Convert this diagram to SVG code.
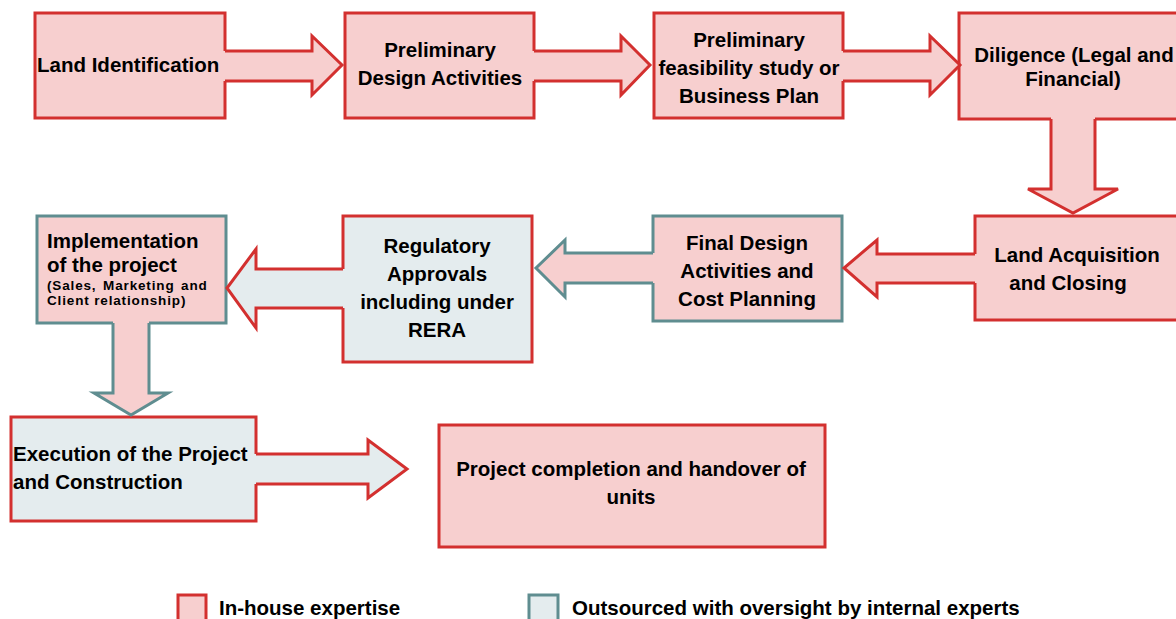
<svg xmlns="http://www.w3.org/2000/svg" width="1176" height="619" viewBox="0 0 1176 619">
<style>
.in{fill:#F7CFCF}
.out{fill:#E4ECEE}
.rs{stroke:#D3302F;stroke-width:3;stroke-linejoin:miter}
.ts{stroke:#5F8D90;stroke-width:3;stroke-linejoin:miter}
.nf{stroke:none}
.ol{fill:none}
text{font-family:"Liberation Sans",Arial,sans-serif;font-weight:bold;font-size:20.5px;fill:#000}
.c{text-anchor:middle}
.sm{font-size:13.5px;letter-spacing:0.85px}
</style>
<rect width="1176" height="619" fill="#fff"/>
<g id="land-identification">
<rect class="in rs" x="35" y="13" width="190" height="105"/>
<text x="37" y="72">Land Identification</text>
</g>
<g id="preliminary-design">
<rect class="in rs" x="345" y="13" width="189" height="105"/>
<text class="c" x="440" y="57">Preliminary</text>
<text class="c" x="440" y="85">Design Activities</text>
</g>
<g id="feasibility">
<rect class="in rs" x="654" y="13" width="189" height="105"/>
<text class="c" x="749" y="47">Preliminary</text>
<text class="c" x="749" y="75">feasibility study or</text>
<text class="c" x="749" y="103">Business Plan</text>
</g>
<g id="diligence">
<rect class="in rs" x="959" y="13" width="240" height="106"/>
<text class="c" x="1074" y="62">Diligence (Legal and</text>
<text class="c" x="1073" y="86">Financial)</text>
</g>
<g id="land-acquisition">
<rect class="in rs" x="975" y="216" width="230" height="104"/>
<text class="c" x="1077" y="262">Land Acquisition</text>
<text class="c" x="1068" y="290">and Closing</text>
</g>
<g id="final-design">
<rect class="in ts" x="653" y="216" width="189" height="105"/>
<text class="c" x="747" y="250">Final Design</text>
<text class="c" x="747" y="278">Activities and</text>
<text class="c" x="747" y="306">Cost Planning</text>
</g>
<g id="regulatory">
<rect class="out rs" x="343" y="216" width="189" height="146"/>
<text class="c" x="437" y="253">Regulatory</text>
<text class="c" x="437" y="281">Approvals</text>
<text class="c" x="437" y="309">including under</text>
<text class="c" x="437" y="337">RERA</text>
</g>
<g id="implementation">
<rect class="in ts" x="37" y="216" width="189" height="107"/>
<text x="47" y="248">Implementation</text>
<text x="47" y="272">of the project</text>
<text class="sm" x="47" y="290" word-spacing="2">(Sales, Marketing and</text>
<text class="sm" x="47" y="305">Client relationship)</text>
</g>
<g id="execution">
<rect class="out rs" x="11" y="417" width="245" height="104"/>
<text x="13" y="461">Execution of the Project</text>
<text x="13" y="489">and Construction</text>
</g>
<g id="completion">
<rect class="in rs" x="439" y="425" width="386" height="122"/>
<text class="c" x="631" y="476">Project completion and handover of</text>
<text class="c" x="631" y="504">units</text>
</g>
<g id="connectors">
<polygon class="in nf" points="223,51 312,51 312,36 342,65 312,95 312,81 223,81"/>
<path class="ol rs" d="M225,51 H312 V36 L342,65 L312,95 V81 H225"/>
<polygon class="in nf" points="532,51 621,51 621,36 650,65 621,95 621,81 532,81"/>
<path class="ol rs" d="M534,51 H621 V36 L650,65 L621,95 V81 H534"/>
<polygon class="in nf" points="841,51 930,51 930,36 960,65 930,95 930,81 841,81"/>
<path class="ol rs" d="M843,51 H930 V36 L960,65 L930,95 V81 H843"/>
<polygon class="in nf" points="1051,117 1051,189 1028,189 1073,213 1118,189 1095,189 1095,117"/>
<path class="ol rs" d="M1051,119 V189 H1028 L1073,213 L1118,189 H1095 V119"/>
<polygon class="in nf" points="977,254 877,254 877,240 844,268 877,297 877,283 977,283"/>
<path class="ol rs" d="M975,254 H877 V240 L844,268 L877,297 V283 H975"/>
<polygon class="in nf" points="655,253 565,253 565,240 536,268 565,297 565,283 655,283"/>
<path class="ol ts" d="M653,253 H565 V240 L536,268 L565,297 V283 H653"/>
<polygon class="out nf" points="345,269 256,269 256,249 227,288 256,328 256,308 345,308"/>
<path class="ol rs" d="M343,269 H256 V249 L227,288 L256,328 V308 H343"/>
<polygon class="in nf" points="113,321 113,393 94,393 131,415 168,393 149,393 149,321"/>
<path class="ol ts" d="M113,323 V393 H94 L131,415 L168,393 H149 V323"/>
<polygon class="out nf" points="254,454 368,454 368,440 407,469 368,498 368,484 254,484"/>
<path class="ol rs" d="M256,454 H368 V440 L407,469 L368,498 V484 H256"/>
</g>
<g id="legend">
<rect class="in rs" x="178" y="595" width="28" height="30"/>
<text x="219" y="615">In-house expertise</text>
<rect class="out ts" x="529" y="595" width="29" height="30"/>
<text x="572" y="615">Outsourced with oversight by internal experts</text>
</g>
</svg>
